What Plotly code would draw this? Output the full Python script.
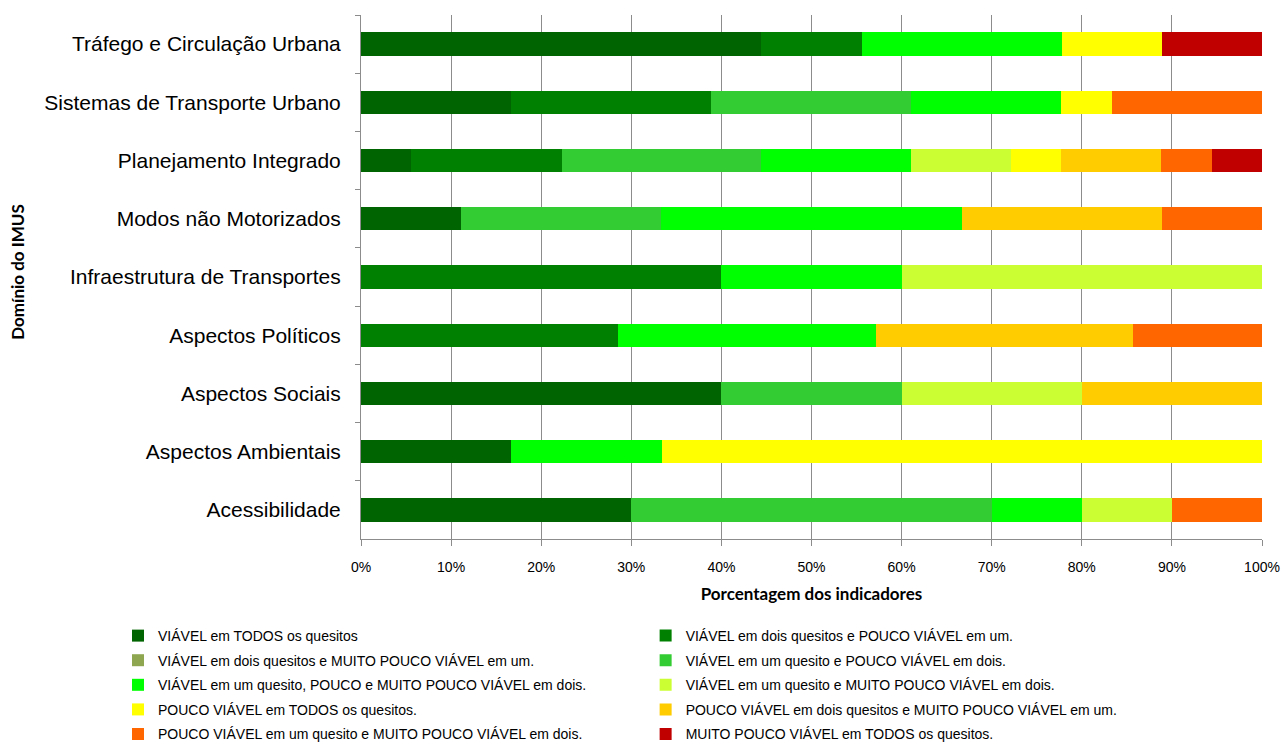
import plotly.graph_objects as go

# Domains of the IMUS index (top to bottom)
dominios = [
    "Tráfego e Circulação Urbana",
    "Sistemas de Transporte Urbano",
    "Planejamento Integrado",
    "Modos não Motorizados",
    "Infraestrutura de Transportes",
    "Aspectos Políticos",
    "Aspectos Sociais",
    "Aspectos Ambientais",
    "Acessibilidade",
]

# Share of indicators (%) in each viability class, one list per class, in domain order
viavel_todos = [44.4, 16.7, 5.6, 11.1, 0, 0, 40, 16.7, 30]
viavel_dois_pouco_um = [11.1, 22.2, 16.7, 0, 40, 28.6, 0, 0, 0]
viavel_dois_muito_pouco_um = [0, 0, 0, 0, 0, 0, 0, 0, 0]
viavel_um_pouco_dois = [0, 22.2, 22.2, 22.2, 0, 0, 20, 0, 40]
viavel_um_pouco_muito_dois = [22.2, 16.7, 16.7, 33.3, 20, 28.6, 0, 16.7, 10]
viavel_um_muito_pouco_dois = [0, 0, 11.1, 0, 40, 0, 20, 0, 10]
pouco_todos = [11.1, 5.6, 5.6, 0, 0, 0, 0, 66.6, 0]
pouco_dois_muito_pouco_um = [0, 0, 11.1, 22.2, 0, 28.6, 20, 0, 0]
pouco_um_muito_pouco_dois = [0, 16.7, 5.6, 11.1, 0, 14.3, 0, 0, 10]
muito_pouco_todos = [11.1, 0, 5.6, 0, 0, 0, 0, 0, 0]

series = [
    ("VIÁVEL em TODOS os quesitos", viavel_todos, "#006400"),
    ("VIÁVEL em dois quesitos e POUCO VIÁVEL em um.", viavel_dois_pouco_um, "#008000"),
    ("VIÁVEL em dois quesitos e MUITO POUCO VIÁVEL em um.", viavel_dois_muito_pouco_um, "#8DA64F"),
    ("VIÁVEL em um quesito e POUCO VIÁVEL em dois.", viavel_um_pouco_dois, "#33CC33"),
    ("VIÁVEL em um quesito, POUCO e MUITO POUCO VIÁVEL em dois.", viavel_um_pouco_muito_dois, "#00FF00"),
    ("VIÁVEL em um quesito e MUITO POUCO VIÁVEL em dois.", viavel_um_muito_pouco_dois, "#CCFF33"),
    ("POUCO VIÁVEL em TODOS os quesitos.", pouco_todos, "#FFFF00"),
    ("POUCO VIÁVEL em dois quesitos e MUITO POUCO VIÁVEL em um.", pouco_dois_muito_pouco_um, "#FFCC00"),
    ("POUCO VIÁVEL em um quesito e MUITO POUCO VIÁVEL em dois.", pouco_um_muito_pouco_dois, "#FF6600"),
    ("MUITO POUCO VIÁVEL em TODOS os quesitos.", muito_pouco_todos, "#C00000"),
]

FONT = "Liberation Sans, Arial, sans-serif"
TITLE_FONT = "Lato, Open Sans, sans-serif"

fig = go.Figure()
for i, (nome, valores, cor) in enumerate(series):
    fig.add_trace(go.Bar(
        y=dominios,
        x=valores,
        name=nome,
        orientation="h",
        marker=dict(color=cor, line=dict(width=0)),
        legend="legend" if i % 2 == 0 else "legend2",
        legendgroup=f"g{i}",
    ))

legend_common = dict(
    orientation="v",
    traceorder="grouped",
    tracegroupgap=3.4,
    font=dict(family=FONT, size=14, color="#000000"),
    bgcolor="rgba(0,0,0,0)",
    yanchor="top",
    y=-0.1546,
    xanchor="left",
    itemwidth=30,
)

fig.update_layout(
    width=1285,
    height=745,
    barmode="stack",
    barnorm="percent",
    bargap=0.6,
    plot_bgcolor="white",
    paper_bgcolor="white",
    margin=dict(l=361, r=23, t=15, b=206, autoexpand=False),
    font=dict(family=FONT, color="#000000"),
    legend=dict(legend_common, x=-0.2697),
    legend2=dict(legend_common, x=0.3159),
    xaxis=dict(
        range=[0, 100],
        dtick=10,
        ticksuffix="%",
        showgrid=True,
        gridcolor="#8C8C8C",
        gridwidth=1,
        showline=True,
        linecolor="#8C8C8C",
        ticks="outside",
        ticklen=6,
        tickcolor="#8C8C8C",
        tickfont=dict(family=FONT, size=14),
        ticklabelstandoff=9,
        zeroline=False,
        automargin=False,
        title=dict(
            text="<b>Porcentagem dos indicadores</b>",
            font=dict(family=TITLE_FONT, size=17),
            standoff=14,
        ),
    ),
    yaxis=dict(
        autorange="reversed",
        showline=True,
        linecolor="#8C8C8C",
        ticks="outside",
        tickson="boundaries",
        ticklen=5,
        tickcolor="#8C8C8C",
        tickfont=dict(family=FONT, size=21),
        ticklabelstandoff=15,
        showgrid=False,
        automargin=False,
    ),
)

fig.add_annotation(
    text="<b>Domínio do IMUS</b>",
    xref="paper", yref="paper",
    x=-0.3807, y=0.51,
    xanchor="center", yanchor="middle",
    textangle=-90,
    showarrow=False,
    font=dict(family=TITLE_FONT, size=17, color="#000000"),
)

fig.write_html("out.html")
